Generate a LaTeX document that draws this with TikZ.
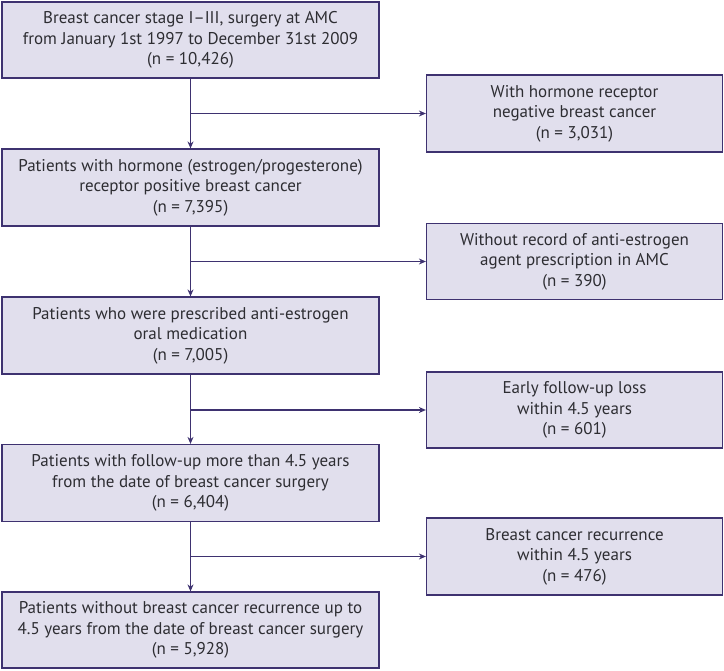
\documentclass[tikz,border=0pt]{standalone}
\usepackage{fontspec}
\setmainfont{PT Sans}
\usetikzlibrary{arrows.meta}
\definecolor{boxfill}{RGB}{225,223,237}
\definecolor{boxline}{RGB}{62,50,112}
\definecolor{txt}{RGB}{45,45,50}
\begin{document}
\begin{tikzpicture}[x=1pt,y=-1pt,
  fbox/.style={draw=boxline,fill=boxfill,line width=1.2pt,inner sep=0pt,align=center,text=txt,font=\fontsize{17}{20.5}\selectfont},
  lbox/.style={fbox,minimum width=377pt},
  rbox/.style={fbox,minimum width=296pt},
  conn/.style={draw=boxline,line width=1.1pt},
  arr/.style={conn,-{Stealth[length=7pt,width=6pt]}}]
\useasboundingbox (0,0) rectangle (724,671);
\node[lbox,minimum height=76pt] (b1) at (190.5,40) {Breast cancer stage I–III, surgery at AMC\\from January 1st 1997 to December 31st 2009\\(n = 10,426)};
\node[lbox,minimum height=77pt] (b2) at (190.5,187.5) {Patients with hormone (estrogen/progesterone)\\receptor positive breast cancer\\(n = 7,395)};
\node[lbox,minimum height=77pt] (b3) at (190.5,335.5) {Patients who were prescribed anti-estrogen\\oral medication\\(n = 7,005)};
\node[lbox,minimum height=77pt] (b4) at (190.5,483) {Patients with follow-up more than 4.5 years\\from the date of breast cancer surgery\\(n = 6,404)};
\node[lbox,minimum height=76pt] (b5) at (190.5,630) {Patients without breast cancer recurrence up to\\4.5 years from the date of breast cancer surgery\\(n = 5,928)};
\node[rbox,minimum height=77pt] (r1) at (574.5,113.5) {With hormone receptor\\negative breast cancer\\(n = 3,031)};
\node[rbox,minimum height=76pt] (r2) at (574.5,261.5) {Without record of anti-estrogen\\agent prescription in AMC\\(n = 390)};
\node[rbox,minimum height=76pt] (r3) at (574.5,410) {Early follow-up loss\\within 4.5 years\\(n = 601)};
\node[rbox,minimum height=77pt] (r4) at (574.5,556.5) {Breast cancer recurrence\\within 4.5 years\\(n = 476)};
\foreach \a/\b/\r/\y in {b1/b2/r1/113.5,b2/b3/r2/261.5,b3/b4/r3/410,b4/b5/r4/556.5}{
  \draw[arr] (\a.south) -- (\b.north);
  \coordinate (j\r) at (190.5,\y);
  \draw[arr] (j\r) -- (\r.west);
}
\end{tikzpicture}
\end{document}
